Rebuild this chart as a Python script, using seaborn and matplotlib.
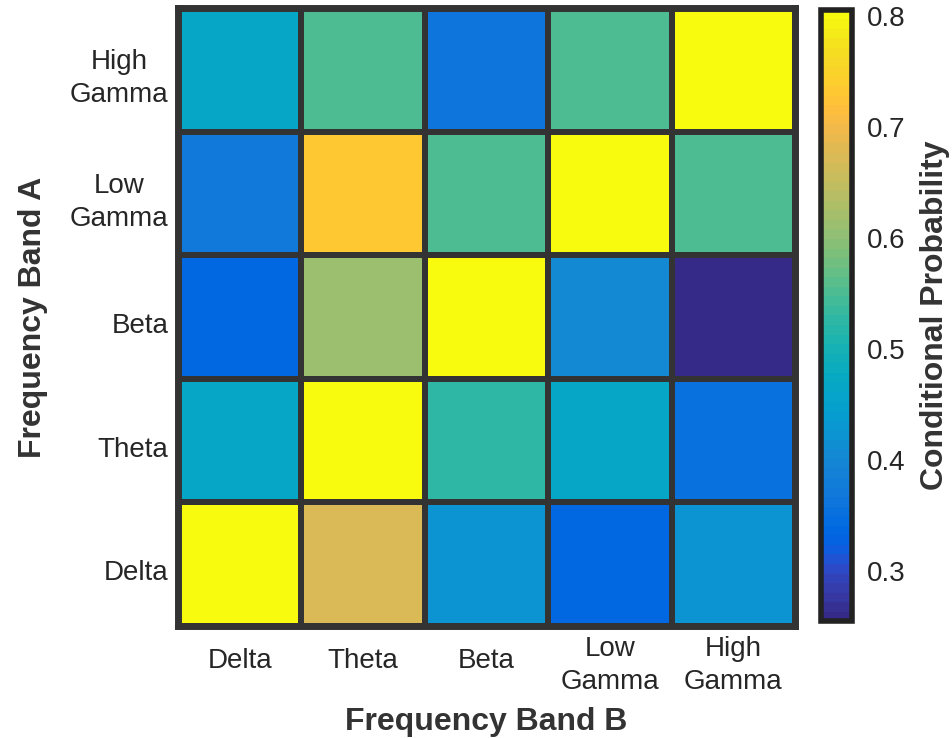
import numpy as np
import pandas as pd
import matplotlib
matplotlib.use("Agg")
import matplotlib.pyplot as plt
import matplotlib.transforms as mtransforms
from matplotlib.colors import ListedColormap
import seaborn as sns

# Frequency bands
bands_b = ["Delta", "Theta", "Beta", "Low\nGamma", "High\nGamma"]
bands_a = ["High\nGamma", "Low\nGamma", "Beta", "Theta", "Delta"]  # top to bottom

# Conditional probability P(A | B), rows listed top to bottom
row_high_gamma = [0.465, 0.555, 0.365, 0.555, 0.800]
row_low_gamma = [0.368, 0.735, 0.555, 0.800, 0.555]
row_beta = [0.333, 0.610, 0.800, 0.405, 0.262]
row_theta = [0.470, 0.800, 0.530, 0.470, 0.350]
row_delta = [0.800, 0.675, 0.420, 0.333, 0.420]

cbar_ticks = [0.3, 0.4, 0.5, 0.6, 0.7, 0.8]
vmin, vmax = 0.255, 0.806

# MATLAB-style parula colormap (64 entries)
parula_rgb = [
    [0.2081, 0.1663, 0.5292], [0.2116, 0.1898, 0.5777], [0.2123, 0.2138, 0.6270],
    [0.2081, 0.2386, 0.6771], [0.1959, 0.2645, 0.7279], [0.1707, 0.2919, 0.7792],
    [0.1253, 0.3242, 0.8303], [0.0591, 0.3598, 0.8683], [0.0117, 0.3875, 0.8820],
    [0.0060, 0.4086, 0.8828], [0.0165, 0.4266, 0.8786], [0.0329, 0.4430, 0.8720],
    [0.0498, 0.4586, 0.8641], [0.0629, 0.4737, 0.8554], [0.0723, 0.4887, 0.8467],
    [0.0779, 0.5040, 0.8384], [0.0793, 0.5200, 0.8312], [0.0749, 0.5375, 0.8263],
    [0.0641, 0.5570, 0.8240], [0.0488, 0.5772, 0.8228], [0.0343, 0.5966, 0.8199],
    [0.0265, 0.6137, 0.8135], [0.0239, 0.6287, 0.8038], [0.0231, 0.6418, 0.7913],
    [0.0228, 0.6535, 0.7768], [0.0267, 0.6642, 0.7607], [0.0384, 0.6743, 0.7436],
    [0.0590, 0.6838, 0.7254], [0.0843, 0.6928, 0.7062], [0.1133, 0.7015, 0.6859],
    [0.1453, 0.7098, 0.6646], [0.1801, 0.7177, 0.6424], [0.2178, 0.7250, 0.6193],
    [0.2586, 0.7317, 0.5954], [0.3022, 0.7376, 0.5712], [0.3482, 0.7424, 0.5473],
    [0.3953, 0.7459, 0.5244], [0.4420, 0.7481, 0.5033], [0.4871, 0.7491, 0.4840],
    [0.5300, 0.7491, 0.4661], [0.5709, 0.7485, 0.4494], [0.6099, 0.7473, 0.4337],
    [0.6473, 0.7456, 0.4188], [0.6834, 0.7435, 0.4044], [0.7184, 0.7411, 0.3905],
    [0.7525, 0.7384, 0.3768], [0.7858, 0.7356, 0.3633], [0.8185, 0.7327, 0.3498],
    [0.8507, 0.7299, 0.3360], [0.8824, 0.7274, 0.3217], [0.9139, 0.7258, 0.3063],
    [0.9450, 0.7261, 0.2886], [0.9739, 0.7314, 0.2666], [0.9938, 0.7455, 0.2403],
    [0.9990, 0.7653, 0.2164], [0.9955, 0.7861, 0.1967], [0.9880, 0.8066, 0.1794],
    [0.9789, 0.8271, 0.1633], [0.9697, 0.8481, 0.1475], [0.9626, 0.8705, 0.1309],
    [0.9589, 0.8949, 0.1132], [0.9598, 0.9218, 0.0948], [0.9661, 0.9514, 0.0755],
    [0.9763, 0.9831, 0.0538],
]
parula = ListedColormap(parula_rgb, name="parula")

data = pd.DataFrame(
    [row_high_gamma, row_low_gamma, row_beta, row_theta, row_delta],
    index=bands_a, columns=bands_b,
)

sns.set_style("white")
plt.rcParams["font.family"] = ["Liberation Sans", "DejaVu Sans"]

edge = "#333333"
tick_color = "#262626"
label_color = "#333333"

fig = plt.figure(figsize=(9.52, 7.38), dpi=100)
ax = fig.add_axes([0.187, 0.152, 0.648, 0.837])
cax = fig.add_axes([0.862, 0.158, 0.033, 0.829])

sns.heatmap(
    data, ax=ax, cbar_ax=cax, cmap=parula, vmin=vmin, vmax=vmax,
    linewidths=4, linecolor=edge, square=False,
)

for sp in ax.spines.values():
    sp.set_visible(True)
    sp.set_color(edge)
    sp.set_linewidth(5)

ax.tick_params(axis="x", length=0, labelsize=20, pad=24, colors=tick_color)
ax.tick_params(axis="y", length=0, labelsize=20, pad=7, colors=tick_color)
ax.set_xticklabels(bands_b, rotation=0, multialignment="center",
                   va="center", linespacing=1.35)
ax.set_yticklabels(bands_a, rotation=0, multialignment="center",
                   linespacing=1.35)


def nudge(label, dy_px):
    """Shift a tick label vertically by dy_px pixels (negative = down)."""
    off = mtransforms.ScaledTranslation(0, dy_px / fig.dpi, fig.dpi_scale_trans)
    label.set_transform(label.get_transform() + off)


for lab in ax.get_yticklabels():
    nudge(lab, -9)
for lab in ax.get_xticklabels():
    nudge(lab, -6 if "\n" in lab.get_text() else -2)

ax.set_xlabel("Frequency Band B", fontsize=23, fontweight="bold", color=label_color)
ax.set_ylabel("Frequency Band A", fontsize=23, fontweight="bold", color=label_color)
ax.xaxis.set_label_coords(0.5, -0.131)
ax.yaxis.set_label_coords(-0.211, 0.5)

cbar = ax.collections[0].colorbar
cbar.outline.set_edgecolor("#222222")
cbar.outline.set_linewidth(4)
cbar.set_ticks(cbar_ticks)
cbar.ax.tick_params(length=0, labelsize=20, pad=11, colors=tick_color)
cbar.set_label("Conditional Probability", fontsize=23, fontweight="bold",
               color=label_color, labelpad=10)

fig.savefig("out.png", dpi=100, facecolor="white")
